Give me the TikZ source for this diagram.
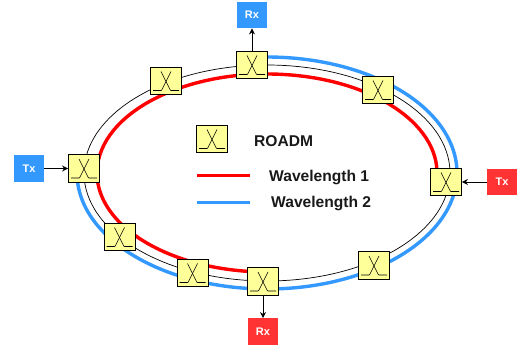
\documentclass[tikz,border=0pt]{standalone}
\usepackage{fontspec}
\setmainfont{Liberation Sans}
\usepackage{tikz}
\usetikzlibrary{arrows.meta, backgrounds}
\definecolor{boxyellow}{HTML}{FFFF99}
\definecolor{waveblue}{HTML}{3399FF}
\definecolor{wavered}{HTML}{FF0000}
\definecolor{boxred}{HTML}{FF3333}
\tikzstyle{roadm} = [rectangle, minimum width=31pt, minimum height=27.5pt, inner sep=0pt, draw=black, line width=0.8pt, fill=boxyellow,
  path picture={\draw [line width=0.6pt, rounded corners=0.5pt] ([xshift=-13pt,yshift=-9.5pt]path picture bounding box.center) -- ++(8.5,0) -- ++(9.5,19);
  \draw [line width=0.6pt, rounded corners=0.5pt] ([xshift=13pt,yshift=-9.5pt]path picture bounding box.center) -- ++(-8.5,0) -- ++(-9.5,19);}]
\tikzstyle{bluebox} = [rectangle, minimum width=30pt, minimum height=26.5pt, inner sep=0pt, fill=waveblue, text=white, font=\bfseries\fontsize{11}{13}\selectfont]
\tikzstyle{redbox} = [bluebox, fill=boxred]
\tikzstyle{legendtext} = [font=\bfseries\fontsize{15.6}{18}\selectfont, text=black!90, inner sep=0pt]
\tikzstyle{arrow} = [line width=0.9pt,-{Stealth[length=6pt,width=6pt]}]
\tikzstyle{redline} = [line width=3.4pt, draw=wavered]
\tikzstyle{blueline} = [line width=3.4pt, draw=waveblue]
\begin{document}
\begin{tikzpicture}[x=1pt, y=1pt, node distance=50pt]
\useasboundingbox (0,0) rectangle (524,351);

\node (0) [roadm] at (252,286) {};

\node (1) [roadm] at (166,270) {};

\node (2) [roadm] at (84,182.5) {};

\node (3) [roadm] at (119.5,114) {};

\node (4) [roadm] at (192.5,78) {};

\node (5) [roadm] at (263,69.5) {};

\node (6) [roadm] at (374,85.5) {};

\node (7) [roadm] at (446,169) {};

\node (8) [roadm] at (378,261) {};

\node (rx0) [bluebox, above of=0] {Rx};

\node (tx2) [bluebox, left of=2, xshift=-5pt] {Tx};

\node (rx5) [redbox, below of=5] {Rx};

\node (tx7) [redbox, right of=7, xshift=6pt] {Tx};

\coordinate (center) at (267,178);

% legend
\node (key) [roadm] at (212,212) {};

\node (keytext) [legendtext, anchor=west] at (254,209.5) {ROADM};

\coordinate (red0) at (197,175.5);
\coordinate (red1) at (250,175.5);
\coordinate (blue0) at (197,148.5);
\coordinate (blue1) at (250,148.5);

\node (redtext) [legendtext, anchor=west] at (269,173) {Wavelength 1};

\node (bluetext) [legendtext, anchor=west] at (271,147) {Wavelength 2};

\draw [redline] (red0) -- (red1);

\draw [blueline] (blue0) -- (blue1);

\begin{scope}[on background layer]
\draw [line width=0.7pt] (center) ellipse [x radius=183, y radius=108];
\draw [redline] ([shift={(-5:170 and 99)}]center) arc [start angle=-5, end angle=270, x radius=170, y radius=99];
\draw [blueline] ([shift={(176:190 and 116)}]center) arc [start angle=176, end angle=455, x radius=190, y radius=116];
\end{scope}

\draw [arrow] (0) -- (rx0);

\draw [arrow] (tx2) -- (2);

\draw [arrow] (5) -- (rx5);

\draw [arrow] (tx7) -- (7);

\end{tikzpicture}
\end{document}
